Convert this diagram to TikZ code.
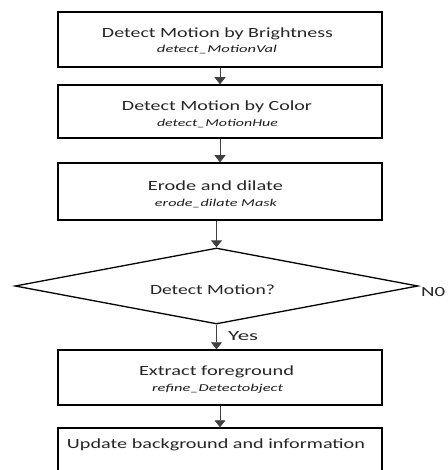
\documentclass[tikz,border=0pt]{standalone}
\usepackage{graphicx}
\usepackage{fontspec}
\setmainfont{Carlito}
\usetikzlibrary{shapes.geometric,arrows.meta}
\newcommand{\wt}[2]{\resizebox{#1pt}{\height}{#2}}
\begin{document}
\begin{tikzpicture}[x=1pt,y=-1pt,
  box/.style={draw=black, line width=1.5pt, fill=white, rectangle, minimum width=324pt, inner sep=0pt},
  ttl/.style={font=\fontsize{14}{16}\selectfont, text=black!85, anchor=base, inner sep=0pt},
  subt/.style={font=\fontsize{10.5}{12}\selectfont\itshape, text=black!88, anchor=base, inner sep=0pt},
  lbl/.style={font=\fontsize{14}{16}\selectfont, text=black!85, anchor=base west, inner sep=0pt},
  arr/.style={draw=black!75, line width=0.9pt, -{Triangle[width=11pt,length=7pt]}}]
\useasboundingbox (0,0) rectangle (447,470);
\clip (0,0) rectangle (447,470);
\fill[white] (0,0) rectangle (447,470);
% boxes
\node[box, minimum height=55pt] (b1) at (220,39.5) {};
\node[box, minimum height=53pt] (b2) at (220,111.5) {};
\node[box, minimum height=57pt] (b3) at (220,191.5) {};
\node[box, minimum height=55pt] (b4) at (220,377.5) {};
\node[box, minimum height=56pt] (b5) at (220,456) {};
% decision
\node[diamond, draw=black, line width=1.3pt, fill=white, aspect=5.3, minimum width=403pt, minimum height=76pt, inner sep=0pt] (d) at (216.5,286) {};
% texts
\node[ttl] (t1) at (217.5,37.3) {\wt{231}{Detect Motion by Brightness}};
\node[subt] (s1) at (217,53) {\wt{120}{detect\_MotionVal}};
\node[ttl] (t2) at (217,111) {\wt{190}{Detect Motion by Color}};
\node[subt] (s2) at (217.5,127) {\wt{121}{detect\_MotionHue}};
\node[ttl] (t3) at (215.5,190.7) {\wt{135}{Erode and dilate}};
\node[subt] (s3) at (216,206.7) {\wt{122}{erode\_dilate Mask}};
\node[ttl] (td) at (212.5,294) {\wt{125}{Detect Motion?}};
\node[ttl] (t4) at (216.5,375.7) {\wt{155}{Extract foreground}};
\node[subt] (s4) at (217.5,391.7) {\wt{131}{refine\_Detectobject}};
\node[ttl] (t5) at (216,448) {\wt{298}{Update background and information}};
\node[lbl] (yes) at (228,340) {\wt{30}{Yes}};
\node[lbl] (no) at (421,296) {\wt{24}{N0}};
% connectors
\draw[arr] (b1.south) -- (b2.north);
\draw[arr] (b2.south) -- (b3.north);
\draw[arr] (b3.south -| d.north) -- (d.north);
\draw[arr] (d.south) -- (b4.north -| d.south);
\draw[arr] (b4.south) -- (b5.north);
\end{tikzpicture}
\end{document}
